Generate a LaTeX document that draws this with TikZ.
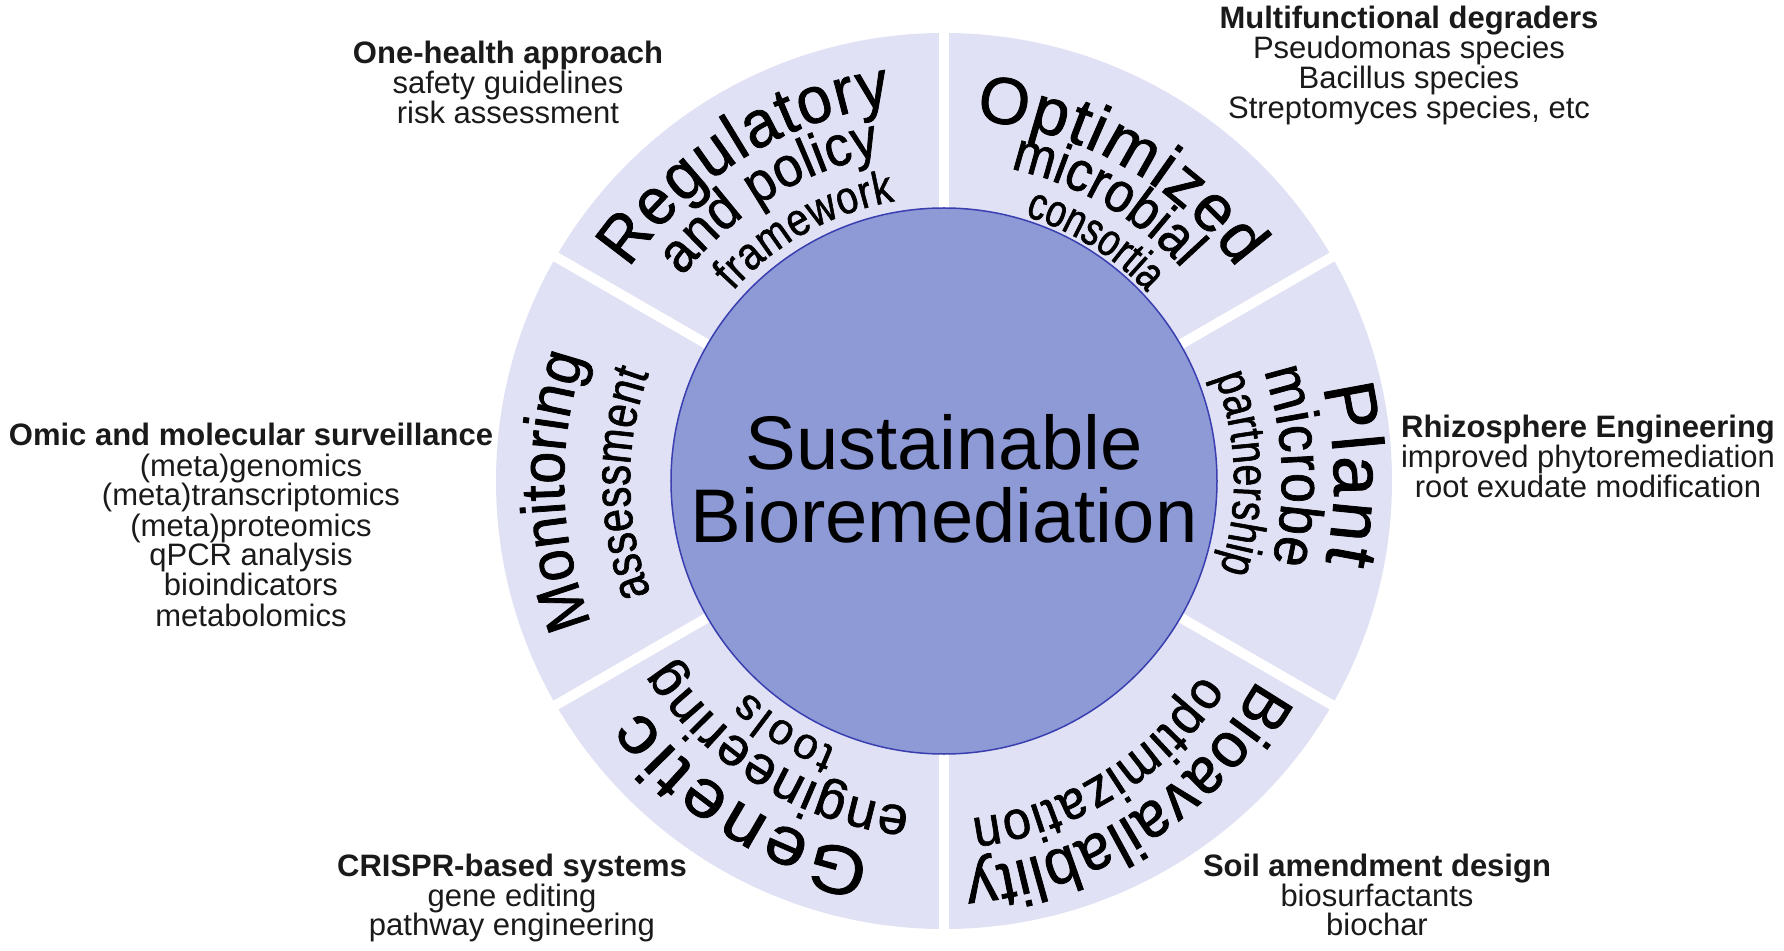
\documentclass[tikz,border=0pt]{standalone}
\usepackage{fontspec}
\setmainfont{Liberation Sans}
\newfontfamily\fsN{Liberation Sans}[FakeBold=1.2]
\newfontfamily\fsT{Liberation Sans}[FakeStretch=0.95,FakeBold=1.2]
\newfontfamily\fsA{Liberation Sans}[FakeStretch=0.93,FakeBold=1.2]
\newfontfamily\fsB{Liberation Sans}[FakeStretch=0.9,FakeBold=1.2]
\newfontfamily\fsC{Liberation Sans}[FakeStretch=0.85,FakeBold=1.2]
\newfontfamily\fsD{Liberation Sans}[FakeStretch=0.8,FakeBold=1.2]
\newfontfamily\fsE{Liberation Sans}[FakeStretch=0.78,FakeBold=1.2]
\newfontfamily\fsW{Liberation Sans}[FakeStretch=1.1,FakeBold=1.2]
\usetikzlibrary{decorations.text}
\definecolor{ringfill}{HTML}{E0E1F4}
\definecolor{hubfill}{HTML}{8D9AD6}
\definecolor{hubline}{HTML}{3A3FB0}
\definecolor{txt}{HTML}{1A1A1A}
\newcommand\arcline[7][0,0]{%
  \path[shift={(#1)},decorate,decoration={text along path,text align={fit to path},
    text={|\fontsize{#5}{#5}#6\selectfont|#7}}]
    (#3:#2pt) arc[start angle=#3,end angle=#4,radius=#2pt];}
\tikzset{
  head/.style={anchor=base,inner sep=0pt,text=txt,font=\fontsize{31}{30}\selectfont\bfseries},
  item/.style={anchor=base,inner sep=0pt,text=txt,font=\fontsize{31}{30}\selectfont},
  gap/.style={white,line width=10pt},
}
\begin{document}
\begin{tikzpicture}[x=1pt,y=1pt]
\useasboundingbox (-944,-469) rectangle (840,481);
% ring
\fill[ringfill] (0,0) circle[radius=448pt];
\foreach \a in {30,90,150,210,270,330} \draw[gap] (0,0) -- (\a:460pt);
% hub
\node[circle,minimum size=546pt,inner sep=0pt,fill=hubfill,draw=hubline,line width=1.5pt] (hub) at (0,0) {};
\node[align=center,inner sep=0pt,font=\fontsize{76}{73}\selectfont] (title) at (0,2) {Sustainable\\Bioremediation};
% top-left
\arcline{380}{146}{98}{66}{\fsT}{Regulatory}
\arcline{332}{142}{101}{56}{\fsA}{and policy}
\arcline{284}{138}{100}{46}{\fsC}{framework}
% top-right
\arcline{362}{85}{36}{66}{\fsN}{Optimized}
\arcline{319}{78}{42}{56}{\fsB}{microbial}
\arcline{277}{73}{43}{46}{\fsE}{consortia}
% right
\arcline{390}{14}{-12}{72}{\fsN}{Plant}
\arcline{338}{19}{-14}{60}{\fsB}{microbe}
\arcline{290}{21}{-18}{50}{\fsE}{partnership}
% bottom-right
\arcline[-12,-18]{372}{-29}{-85}{64}{\fsT}{Bioavailablity}
\arcline[-12,-18]{322}{-33}{-83}{54}{\fsA}{optimization}
% bottom-left
\arcline{380}{-101}{-143}{68}{\fsW}{Genetic}
\arcline{328}{-96}{-147}{54}{\fsN}{engineering}
\arcline{288}{-112}{-133}{44}{\fsN}{tools}
% left
\arcline{380}{202}{161}{62}{\fsA}{Monitoring}
\arcline{314}{201}{160}{52}{\fsD}{assessment}
% annotations
\node[head] (oh1) at (-436,417) {One-health approach};
\node[item] (oh2) at (-436,387) {safety guidelines};
\node[item] (oh3) at (-436,357) {risk assessment};
\node[head] (md1) at (465,452) {Multifunctional degraders};
\node[item] (md2) at (465,422) {Pseudomonas species};
\node[item] (md3) at (465,392) {Bacillus species};
\node[item] (md4) at (465,362) {Streptomyces species, etc};
\node[head] (re1) at (644,43) {Rhizosphere Engineering};
\node[item] (re2) at (644,13) {improved phytoremediation};
\node[item] (re3) at (644,-16) {root exudate modification};
\node[head] (om1) at (-693,35) {Omic and molecular surveillance};
\node[item] (om2) at (-693,5) {(meta)genomics};
\node[item] (om3) at (-693,-24) {(meta)transcriptomics};
\node[item] (om4) at (-693,-55) {(meta)proteomics};
\node[item] (om5) at (-693,-84) {qPCR analysis};
\node[item] (om6) at (-693,-114) {bioindicators};
\node[item] (om7) at (-693,-145) {metabolomics};
\node[head] (cr1) at (-432,-395) {CRISPR-based systems};
\node[item] (cr2) at (-432,-425) {gene editing};
\node[item] (cr3) at (-432,-454) {pathway engineering};
\node[head] (sa1) at (433,-395) {Soil amendment design};
\node[item] (sa2) at (433,-425) {biosurfactants};
\node[item] (sa3) at (433,-454) {biochar};
\end{tikzpicture}
\end{document}
